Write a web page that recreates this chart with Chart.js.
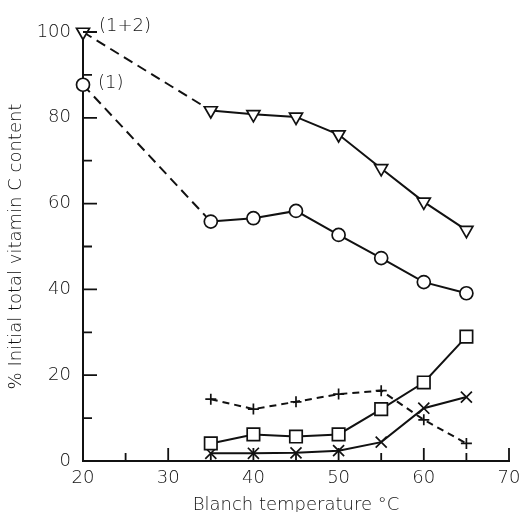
<!DOCTYPE html>
<html>
<head>
<meta charset="utf-8">
<script src="https://cdn.jsdelivr.net/npm/chart.js@4/dist/chart.umd.min.js"></script>
<style>
  html, body { margin: 0; padding: 0; background: #fff; }
  #wrap { width: 522px; height: 512px; }
</style>
</head>
<body>
<div id="wrap"><canvas id="chart"></canvas></div>
<script>
// Blanch temperature (°C)
const temps = [20, 35, 40, 45, 50, 55, 60, 65];
const tempsLow = [35, 40, 45, 50, 55, 60, 65];

// % initial total vitamin C
const total12 = [100, 81.7, 80.8, 80.2, 76.1, 68.2, 60.4, 53.8];   // (1+2) triangles
const total1 = [87.7, 55.8, 56.6, 58.3, 52.7, 47.3, 41.7, 39.1];   // (1) circles
const squares = [4.1, 6.2, 5.7, 6.2, 12.1, 18.3, 29.0];
const crosses = [1.8, 1.8, 1.9, 2.4, 4.4, 12.3, 14.9];
const pluses = [14.4, 12.1, 13.8, 15.6, 16.4, 9.6, 4.1];

const xTickLabels = [20, 30, 40, 50, 60, 70];
const yTickLabels = [0, 20, 40, 60, 80, 100];

const FONT = "'DejaVu Sans', sans-serif";
const WEIGHT = 200;
const ink = '#111';

const pts = (xs, ys) => xs.map((x, i) => ({ x: x, y: ys[i] }));

// first segment (from 20 °C) is dashed
const firstDashed = { borderDash: ctx => ctx.p0DataIndex === 0 ? [10, 6] : undefined };

const bgPlugin = {
    id: 'bg',
    beforeDraw(chart) {
        const c = chart.ctx;
        c.save();
        c.fillStyle = '#fff';
        c.fillRect(0, 0, chart.width, chart.height);
        c.restore();
    }
};

// ticks pointing into the plot, plus the (1+2) / (1) labels
const decoPlugin = {
    id: 'deco',
    afterDraw(chart) {
        const c = chart.ctx;
        const xs = chart.scales.x, ys = chart.scales.y;
        c.save();
        c.strokeStyle = ink;
        c.lineWidth = 1.8;
        c.beginPath();
        for (let v = 10; v <= 100; v += 10) {
            const y = ys.getPixelForValue(v);
            const len = v % 20 === 0 ? 14 : 9;
            c.moveTo(xs.left, y);
            c.lineTo(xs.left + len, y);
        }
        for (let v = 25; v <= 70; v += 5) {
            const x = xs.getPixelForValue(v);
            const len = v % 10 === 0 ? 13 : 8;
            c.moveTo(x, ys.bottom);
            c.lineTo(x, ys.bottom - len);
        }
        c.stroke();

        c.fillStyle = ink;
        c.font = WEIGHT + ' 18px ' + FONT;
        c.textBaseline = 'middle';
        c.textAlign = 'left';
        c.fillText('(1+2)', xs.getPixelForValue(temps[0]) + 16, ys.getPixelForValue(total12[0]) - 6);
        c.fillText('(1)', xs.getPixelForValue(temps[0]) + 15, ys.getPixelForValue(total1[0]) - 1);
        c.restore();
    }
};

const common = {
    borderColor: ink,
    backgroundColor: '#fff',
    pointBorderColor: ink,
    borderWidth: 2,
    pointBorderWidth: 1.7,
    clip: false,
    tension: 0
};

const tickFont = { family: FONT, size: 18, weight: WEIGHT };

new Chart(document.getElementById('chart'), {
    type: 'line',
    data: {
        datasets: [
            {
                ...common,
                label: '(1+2)',
                data: pts(temps, total12),
                pointStyle: 'triangle',
                pointRotation: 180,
                pointRadius: 7.5,
                segment: firstDashed
            },
            {
                ...common,
                label: '(1)',
                data: pts(temps, total1),
                pointStyle: 'circle',
                pointRadius: 6.5,
                segment: firstDashed
            },
            {
                ...common,
                label: 'squares',
                data: pts(tempsLow, squares),
                pointStyle: 'rect',
                pointRadius: 8.8
            },
            {
                ...common,
                label: 'crosses',
                data: pts(tempsLow, crosses),
                pointStyle: 'crossRot',
                pointRadius: 7.8
            },
            {
                ...common,
                label: 'plus',
                data: pts(tempsLow, pluses),
                pointStyle: 'cross',
                pointRadius: 5.5,
                borderDash: [7, 5]
            }
        ]
    },
    options: {
        responsive: true,
        maintainAspectRatio: false,
        animation: false,
        layout: { padding: { top: 32, right: 13, left: 0, bottom: 0 } },
        plugins: {
            legend: { display: false },
            tooltip: { enabled: false }
        },
        scales: {
            x: {
                type: 'linear',
                min: 20,
                max: 70,
                grid: { display: false },
                border: { display: true, color: ink, width: 2 },
                ticks: {
                    stepSize: 10,
                    padding: -1,
                    color: ink,
                    font: tickFont,
                    maxRotation: 0,
                    callback: v => xTickLabels.includes(v) ? String(v) : ''
                },
                title: {
                    display: true,
                    text: 'Blanch temperature °C',
                    color: ink,
                    font: tickFont,
                    padding: { top: 4, bottom: -4 }
                },
                afterFit: s => { s.height = 51; }
            },
            y: {
                type: 'linear',
                min: 0,
                max: 100,
                grid: { display: false },
                border: { display: true, color: ink, width: 2 },
                ticks: {
                    stepSize: 20,
                    padding: 4,
                    color: ink,
                    font: tickFont,
                    callback: v => yTickLabels.includes(v) ? String(v) : ''
                },
                title: {
                    display: true,
                    text: '% Initial total vitamin C content',
                    color: ink,
                    font: tickFont,
                    padding: { top: 6, bottom: 0 }
                },
                afterFit: s => { s.width = 83; }
            }
        }
    },
    plugins: [bgPlugin, decoPlugin]
});
</script>
</body>
</html>
